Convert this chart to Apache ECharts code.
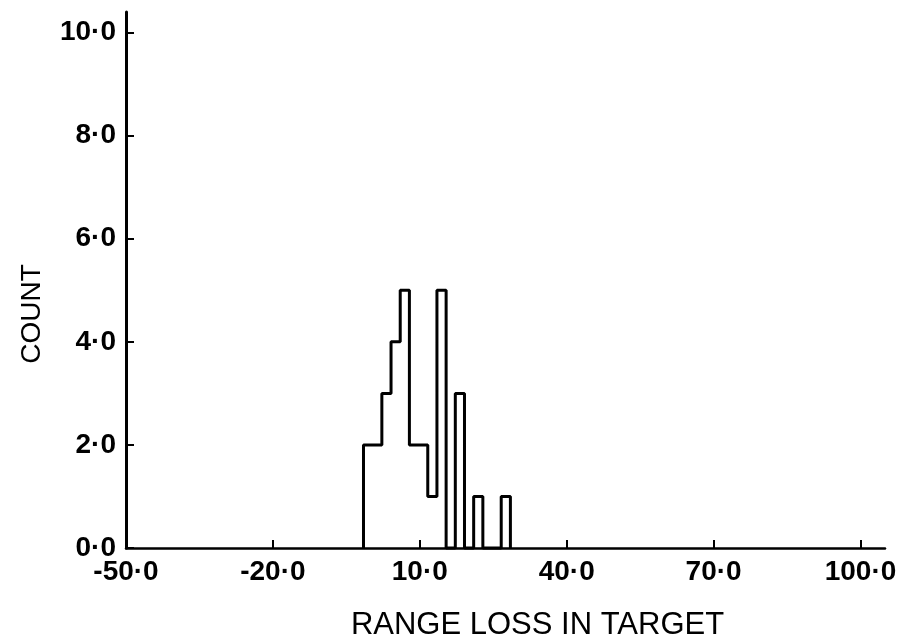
<!DOCTYPE html>
<html>
<head>
<meta charset="utf-8">
<script src="https://cdn.jsdelivr.net/npm/echarts@6/dist/echarts.min.js"></script>
<style>
html,body{margin:0;padding:0;background:#fff;}
#chart{width:897px;height:641px;}
</style>
</head>
<body>
<div id="chart"></div>
<script>
// Histogram bin edges (range loss) and counts
var binEdges = [-1.5, 0.375, 2.25, 4.125, 6, 7.875, 9.75, 11.625, 13.5, 15.375, 17.25, 19.125, 21, 22.875, 24.75, 26.625, 28.5];
var binCounts = [2, 2, 3, 4, 5, 2, 2, 1, 5, 0, 3, 0, 1, 0, 0, 1];

var xTickValues = [-50, -20, 10, 40, 70, 100];
var xTickLabels = ['-50·0', '-20·0', '10·0', '40·0', '70·0', '100·0'];
var yTickValues = [0, 2, 4, 6, 8, 10];
var yTickLabels = ['0·0', '2·0', '4·0', '6·0', '8·0', '10·0'];

var xTitle = 'RANGE LOSS IN TARGET';
var yTitle = 'COUNT';

// step outline: start at baseline, one point per bin, close at baseline
var outline = [[binEdges[0], 0]];
for (var i = 0; i < binCounts.length; i++) {
  outline.push([binEdges[i], binCounts[i]]);
}
outline.push([binEdges[binEdges.length - 1], 0]);

function labelFor(values, labels) {
  return function (v) {
    for (var k = 0; k < values.length; k++) {
      if (Math.abs(values[k] - v) < 1e-6) return labels[k];
    }
    return '';
  };
}

var font = 'Liberation Sans, Arial, sans-serif';
var chart = echarts.init(document.getElementById('chart'), null, {renderer: 'canvas'});
chart.setOption({
  backgroundColor: '#ffffff',
  animation: false,
  grid: {left: 126, right: 12, top: 12, bottom: 93, containLabel: false, outerBoundsMode: 'none'},
  xAxis: {
    type: 'value',
    min: -50,
    max: 105,
    name: xTitle,
    nameLocation: 'middle',
    nameGap: 62,
    nameTextStyle: {color: '#000', fontFamily: font, fontSize: 31, padding: [0, 0, 0, 64]},
    splitLine: {show: false},
    axisLine: {show: true, onZero: false, lineStyle: {color: '#000', width: 2.5}},
    axisTick: {show: true, inside: true, length: 8, customValues: xTickValues, lineStyle: {color: '#000', width: 2}},
    axisLabel: {
      customValues: xTickValues,
      formatter: labelFor(xTickValues, xTickLabels),
      color: '#000', fontFamily: font, fontSize: 28, fontWeight: 'bold', margin: 10
    }
  },
  yAxis: {
    type: 'value',
    min: 0,
    max: 10.4,
    name: yTitle,
    nameLocation: 'middle',
    nameGap: 80,
    nameRotate: 90,
    nameTextStyle: {color: '#000', fontFamily: font, fontSize: 28, padding: [0, 68, 0, 0]},
    splitLine: {show: false},
    axisLine: {show: true, onZero: false, lineStyle: {color: '#000', width: 3}},
    axisTick: {show: true, inside: true, length: 8, customValues: yTickValues, lineStyle: {color: '#000', width: 2}},
    axisLabel: {
      customValues: yTickValues,
      formatter: labelFor(yTickValues, yTickLabels),
      color: '#000', fontFamily: font, fontSize: 28, fontWeight: 'bold', margin: 10
    }
  },
  series: [{
    type: 'line',
    step: 'end',
    data: outline,
    symbol: 'none',
    lineStyle: {color: '#000', width: 3},
    clip: false
  }]
});
</script>
</body>
</html>
